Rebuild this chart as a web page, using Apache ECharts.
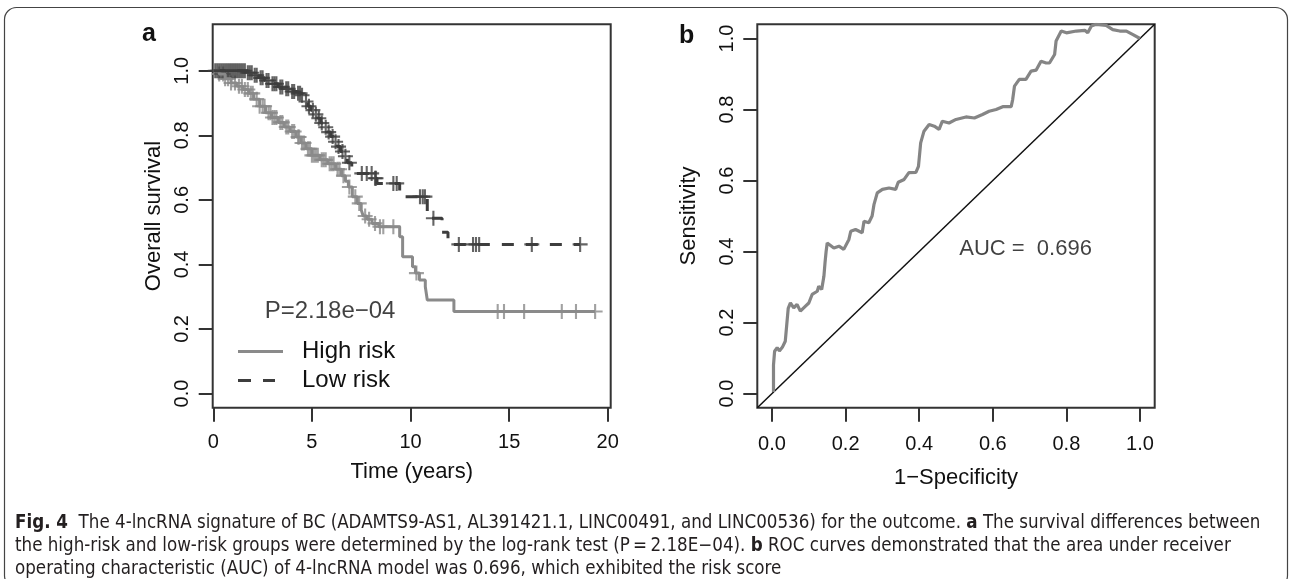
<!DOCTYPE html>
<html>
<head>
<meta charset="utf-8">
<script src="https://cdn.jsdelivr.net/npm/echarts@6/dist/echarts.min.js"></script>
<style>
html, body { margin: 0; padding: 0; background: #fff; }
#main { width: 1290px; height: 579px; }
</style>
</head>
<body>
<div id="main"></div>
<script>
// ---------- panel a : Kaplan-Meier ----------
// step points (time in years, survival after that time)
const highTime = [0, 0.3, 0.6, 0.9, 1.2, 1.5, 1.8, 2.05, 2.35, 2.65, 2.95, 3.3, 3.6, 3.9, 4.2, 4.45, 4.7, 5.0, 5.4, 5.8, 6.2, 6.5, 6.7, 6.85, 7.05, 7.3, 7.5, 7.6, 7.8, 8.05, 8.4, 9.45, 9.6, 10.1, 10.25, 10.45, 10.75, 10.85, 12.2, 19.36];
const highSurv = [1.0, 0.99, 0.975, 0.962, 0.952, 0.942, 0.93, 0.912, 0.89, 0.87, 0.855, 0.84, 0.826, 0.812, 0.795, 0.776, 0.758, 0.738, 0.724, 0.712, 0.695, 0.675, 0.658, 0.64, 0.61, 0.589, 0.569, 0.55, 0.54, 0.527, 0.517, 0.486, 0.424, 0.393, 0.373, 0.352, 0.331, 0.29, 0.254, 0.254];
const highCensor = [0.3, 0.5, 0.6, 0.75, 0.9, 1.1, 1.3, 1.45, 1.6, 1.75, 1.9, 2.0, 2.2, 2.35, 2.5, 2.6, 2.8, 2.9, 3.0, 3.1, 3.2, 3.4, 3.5, 3.7, 3.8, 4.0, 4.1, 4.3, 4.35, 4.5, 4.6, 4.8, 4.9, 5.0, 5.1, 5.2, 5.3, 5.5, 5.6, 5.7, 5.9, 6.0, 6.1, 6.3, 6.4, 6.6, 6.9, 7.2, 7.4, 7.7, 7.9, 8.2, 8.45, 8.62, 9.13, 10.3, 14.42, 14.74, 15.76, 17.67, 18.39, 19.36];

const lowTime = [0, 1.7, 2.0, 2.3, 2.6, 2.9, 3.3, 3.6, 3.9, 4.2, 4.45, 4.6, 4.8, 4.95, 5.1, 5.3, 5.45, 5.6, 5.75, 5.95, 6.1, 6.3, 6.45, 6.6, 6.8, 7.02, 8.15, 8.3, 9.45, 10.85, 11.6, 11.9, 18.6];
const lowSurv = [1.0, 0.994, 0.986, 0.978, 0.97, 0.96, 0.95, 0.944, 0.936, 0.93, 0.924, 0.905, 0.89, 0.878, 0.865, 0.853, 0.838, 0.825, 0.81, 0.796, 0.78, 0.765, 0.75, 0.735, 0.715, 0.682, 0.667, 0.651, 0.61, 0.543, 0.5, 0.462, 0.462];
const lowCensor = [0.1, 0.2, 0.3, 0.4, 0.5, 0.6, 0.7, 0.8, 0.9, 1.0, 1.1, 1.2, 1.3, 1.4, 1.5, 1.6, 1.75, 1.85, 1.95, 2.1, 2.2, 2.4, 2.5, 2.7, 2.8, 3.0, 3.1, 3.2, 3.4, 3.5, 3.7, 3.8, 4.0, 4.1, 4.3, 4.4, 4.5, 4.7, 4.85, 5.05, 5.2, 5.35, 5.5, 5.7, 5.85, 6.05, 6.2, 6.35, 6.55, 6.7, 6.9, 7.53, 7.78, 8.03, 8.2, 8.25, 9.13, 9.3, 10.48, 10.62, 10.73, 11.16, 12.45, 13.17, 13.32, 13.48, 16.15, 18.6];

const kmTimeTicks = [0, 5, 10, 15, 20];
const kmSurvTicks = [0, 0.2, 0.4, 0.6, 0.8, 1.0];
const groupNames = ['High risk', 'Low risk'];
const pValueText = 'P=2.18e\u221204';
const pValuePos = [5.92, 0.255];

// ---------- panel b : ROC ----------
const rocFpr = [0.004, 0.004, 0.007, 0.014, 0.02, 0.028, 0.036, 0.041, 0.044, 0.05, 0.059, 0.068, 0.077, 0.091, 0.10, 0.109, 0.123, 0.127, 0.135, 0.141, 0.144, 0.147, 0.15, 0.155, 0.168, 0.182, 0.195, 0.209, 0.214, 0.227, 0.245, 0.25, 0.263, 0.272, 0.277, 0.286, 0.30, 0.318, 0.336, 0.343, 0.359, 0.372, 0.391, 0.398, 0.404, 0.413, 0.427, 0.441, 0.454, 0.463, 0.481, 0.50, 0.527, 0.55, 0.572, 0.59, 0.609, 0.627, 0.65, 0.654, 0.659, 0.672, 0.69, 0.704, 0.718, 0.731, 0.745, 0.754, 0.768, 0.772, 0.786, 0.80, 0.827, 0.85, 0.858, 0.868, 0.881, 0.908, 0.926, 0.945, 0.963, 0.981, 1.0];
const rocTpr = [0.004, 0.08, 0.119, 0.129, 0.12, 0.13, 0.147, 0.152, 0.24, 0.255, 0.241, 0.251, 0.232, 0.246, 0.255, 0.279, 0.288, 0.302, 0.293, 0.33, 0.368, 0.40, 0.424, 0.42, 0.41, 0.415, 0.406, 0.434, 0.457, 0.462, 0.453, 0.485, 0.481, 0.50, 0.532, 0.565, 0.575, 0.579, 0.575, 0.595, 0.603, 0.622, 0.623, 0.64, 0.706, 0.739, 0.758, 0.753, 0.744, 0.767, 0.762, 0.772, 0.779, 0.776, 0.786, 0.795, 0.80, 0.808, 0.808, 0.828, 0.866, 0.885, 0.885, 0.908, 0.911, 0.936, 0.931, 0.931, 0.955, 0.993, 1.021, 1.016, 1.021, 1.023, 1.016, 1.035, 1.04, 1.037, 1.025, 1.021, 1.021, 1.011, 1.0];
const rocTicks = [0, 0.2, 0.4, 0.6, 0.8, 1.0];
const aucText = 'AUC =  0.696';
const aucPos = [0.689, 0.406];

const captionLines = [
    '{b|Fig. 4}  The 4-lncRNA signature of BC (ADAMTS9-AS1, AL391421.1, LINC00491, and LINC00536) for the outcome. {b|a} The survival differences between',
    'the high-risk and low-risk groups were determined by the log-rank test (P\u2009=\u20092.18E\u221204). {b|b} ROC curves demonstrated that the area under receiver',
    'operating characteristic (AUC) of 4-lncRNA model was 0.696, which exhibited the risk score'
];

const FONT = "'Liberation Sans', Arial, sans-serif";
const CAP_FONT = "'Liberation Sans Narrow', 'DejaVu Sans Condensed', 'Liberation Sans', sans-serif";
const INK = '#111';
const BOX = '#333';
const HIGH_COLOR = '#8a8a8a';
const LOW_COLOR = '#3d3d3d';
const PLUS = 'path://M-0.14,-1L0.14,-1L0.14,1L-0.14,1ZM-1,-0.14L1,-0.14L1,0.14L-1,0.14Z';
// legend keys: a solid bar and two dashes (a hair at the far end keeps the 45px scale)
const KEY_SOLID = 'path://M0,0H45V3H0Z';
const KEY_DASHED = 'path://M0,0H13V3H0ZM25,0H37V3H25ZM44.9,1.4H45V1.6H44.9Z';

// survival value at time t from a step curve
function survAt(times, surv, t) {
    let s = surv[0];
    for (let i = 0; i < times.length; i++) {
        if (times[i] <= t) s = surv[i]; else break;
    }
    return s;
}
const zip = (a, b) => a.map((v, i) => [v, b[i]]);

function valueAxis(grid, min, max, ticks, fmt, extra, margin) {
    return Object.assign({
        gridIndex: grid, type: 'value', min: min, max: max,
        axisLine: { show: false, onZero: false },
        axisTick: { show: true, customValues: ticks, length: 14, lineStyle: { color: BOX, width: 2 } },
        axisLabel: { customValues: ticks, formatter: fmt, fontSize: 20, color: INK, fontFamily: FONT, margin: margin },
        splitLine: { show: false },
        nameLocation: 'middle',
        nameTextStyle: { fontSize: 22, color: INK, fontFamily: FONT }
    }, extra);
}

const chart = echarts.init(document.getElementById('main'), null, { renderer: 'canvas' });

chart.setOption({
    animation: false,
    backgroundColor: '#fff',
    grid: [
        { left: 212.7, top: 24.3, width: 398, height: 383.4, show: true, borderColor: BOX, borderWidth: 2, backgroundColor: 'transparent', outerBoundsMode: 'none' },
        { left: 757.3, top: 24.3, width: 397.4, height: 383.4, show: true, borderColor: BOX, borderWidth: 2, backgroundColor: 'transparent', outerBoundsMode: 'none' }
    ],
    xAxis: [
        valueAxis(0, -0.03, 20.15, kmTimeTicks, v => String(v), { name: 'Time (years)', nameGap: 53 }, 25),
        valueAxis(1, -0.04, 1.04, rocTicks, v => v.toFixed(1), { name: '1\u2212Specificity', nameGap: 59 }, 27)
    ],
    yAxis: [
        valueAxis(0, -0.044, 1.144, kmSurvTicks, v => v.toFixed(1), { name: 'Overall survival', nameGap: 48 }, 20),
        valueAxis(1, -0.04, 1.04, rocTicks, v => v.toFixed(1), { name: 'Sensitivity', nameGap: 57 }, 20)
    ].map(a => { a.axisLabel.rotate = 90; return a; }),
    legend: {
        data: [
            { name: groupNames[0], icon: KEY_SOLID },
            { name: groupNames[1], icon: KEY_DASHED }
        ],
        orient: 'vertical', left: 233, top: 334.5,
        itemWidth: 45, itemHeight: 3, itemGap: 5,
        selectedMode: false,
        textStyle: { fontSize: 24, color: INK, fontFamily: FONT, padding: [0, 0, 0, 14] }
    },
    series: [
        {
            name: groupNames[0], type: 'line', step: 'end', xAxisIndex: 0, yAxisIndex: 0,
            symbol: 'none', showSymbol: false,
            lineStyle: { color: HIGH_COLOR, width: 3 }, itemStyle: { color: HIGH_COLOR },
            data: zip(highTime, highSurv)
        },
        {
            name: 'High risk censored', type: 'scatter', xAxisIndex: 0, yAxisIndex: 0,
            symbol: PLUS, symbolSize: 15, itemStyle: { color: HIGH_COLOR },
            data: highCensor.map(t => [t, survAt(highTime, highSurv, t)])
        },
        {
            name: groupNames[1], type: 'line', step: 'end', xAxisIndex: 0, yAxisIndex: 0,
            symbol: 'none', showSymbol: false,
            lineStyle: { color: LOW_COLOR, width: 3, type: [12, 12] }, itemStyle: { color: LOW_COLOR },
            data: zip(lowTime, lowSurv)
        },
        {
            name: 'Low risk censored', type: 'scatter', xAxisIndex: 0, yAxisIndex: 0,
            symbol: PLUS, symbolSize: 15, itemStyle: { color: LOW_COLOR },
            data: lowCensor.map(t => [t, survAt(lowTime, lowSurv, t)])
        },
        {
            name: 'p value', type: 'scatter', xAxisIndex: 0, yAxisIndex: 0, silent: true,
            symbolSize: 0.1, itemStyle: { color: 'transparent' },
            label: { show: true, position: 'inside', formatter: pValueText, fontSize: 24, color: INK, fontFamily: FONT },
            data: [pValuePos]
        },
        {
            name: 'diagonal', type: 'line', xAxisIndex: 1, yAxisIndex: 1, symbol: 'none', clip: true,
            lineStyle: { color: INK, width: 1.5 },
            data: [[-0.04, -0.04], [1.04, 1.04]]
        },
        {
            name: 'ROC', type: 'line', xAxisIndex: 1, yAxisIndex: 1, symbol: 'none', clip: true,
            lineStyle: { color: '#858585', width: 3.2 },
            data: zip(rocFpr, rocTpr)
        },
        {
            name: 'auc', type: 'scatter', xAxisIndex: 1, yAxisIndex: 1, silent: true,
            symbolSize: 0.1, itemStyle: { color: 'transparent' },
            label: { show: true, position: 'inside', formatter: aucText, fontSize: 22, color: INK, fontFamily: FONT },
            data: [aucPos]
        }
    ],
    graphic: [
        {
            type: 'rect', silent: true,
            shape: { x: 4.5, y: 7.5, width: 1283, height: 580, r: 12 },
            style: { fill: 'none', stroke: '#444', lineWidth: 1.2 }
        },
        { type: 'text', left: 142, top: 22, style: { text: 'a', font: "bold 25px 'Liberation Sans', Arial, sans-serif", fill: INK } },
        { type: 'text', left: 679, top: 24, style: { text: 'b', font: "bold 25px 'Liberation Sans', Arial, sans-serif", fill: INK } },
        {
            type: 'text', left: 15, top: 512,
            style: {
                text: captionLines.join('\n'),
                fontSize: 18.6, lineHeight: 23, fontFamily: CAP_FONT, fill: '#231f20',
                rich: { b: { fontWeight: 'bold', fontSize: 18.6, fontFamily: CAP_FONT, fill: '#231f20' } }
            }
        }
    ]
});
</script>
</body>
</html>
